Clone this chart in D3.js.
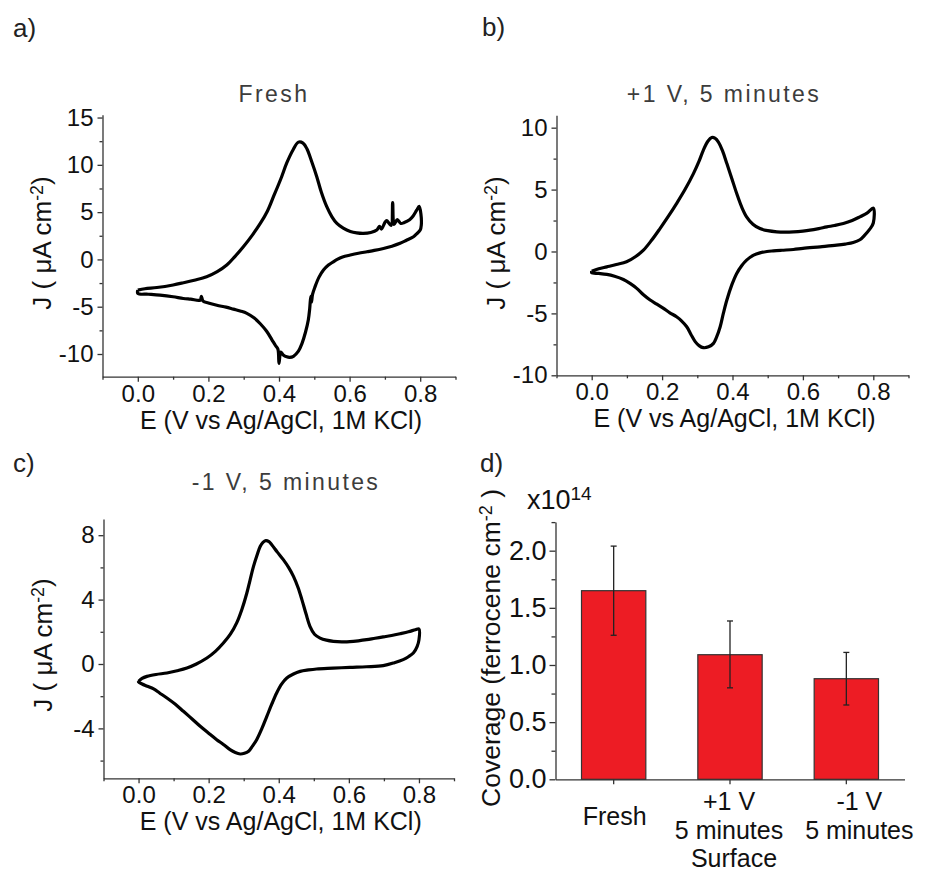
<!DOCTYPE html>
<html>
<head>
<meta charset="utf-8">
<script src="https://cdnjs.cloudflare.com/ajax/libs/d3/7.8.5/d3.min.js"></script>
<style>
  body { margin: 0; background: #fff; }
  text { font-family: "Liberation Sans", Arial, sans-serif; }
</style>
</head>
<body>
<script>
// ---- data ----
var xTicksCV = [0, 0.2, 0.4, 0.6, 0.8];
var xMinorCV = [-0.1, 0.1, 0.3, 0.5, 0.7, 0.9];

// a) Fresh  [E (V), J (uA cm-2)]
var freshUp = [[0.000,-3.25],[0.02,-3.1],[0.054,-2.97],[0.10,-2.7],[0.129,-2.47],[0.16,-2.2],[0.195,-1.84],
  [0.225,-1.3],[0.252,-0.6],[0.275,0.3],[0.299,1.34],[0.325,2.6],[0.347,3.8],[0.367,5.1],[0.384,6.6],
  [0.405,8.5],[0.422,10.2],[0.44,11.6],[0.455,12.4],[0.468,12.3],[0.479,11.7],[0.493,10.3],[0.507,8.75],
  [0.52,7.1],[0.535,5.6],[0.55,4.5],[0.564,3.8],[0.582,3.3],[0.602,2.95],[0.62,2.8],[0.639,2.75],
  [0.66,2.85],[0.677,3.1],[0.685,3.5],[0.69,3.2],[0.70,3.9],[0.705,4.1],[0.712,3.8],[0.718,3.6],
  [0.722,6.0],[0.726,3.7],[0.735,4.2],[0.745,3.8],[0.755,3.9],[0.77,4.2],[0.78,4.6],[0.79,5.2],
  [0.797,5.6],[0.802,4.8],[0.803,3.6],[0.80,3.1]];
var freshDown = [[0.79,2.7],[0.781,2.4],[0.76,2.0],[0.743,1.7],[0.72,1.4],[0.696,1.16],[0.67,0.95],
  [0.649,0.81],[0.625,0.65],[0.602,0.46],[0.58,0.25],[0.565,0.0],[0.554,-0.25],[0.54,-0.6],[0.526,-1.13],
  [0.513,-1.9],[0.502,-2.9],[0.495,-3.7],[0.492,-4.5],[0.49,-3.9],[0.487,-5.2],[0.483,-6.4],[0.475,-7.7],
  [0.465,-8.9],[0.455,-9.7],[0.441,-10.24],[0.43,-10.35],[0.422,-10.3],[0.412,-10.1],[0.405,-9.8],
  [0.400,-11.0],[0.397,-9.5],[0.39,-9.1],[0.38,-8.5],[0.365,-7.6],[0.347,-6.8],[0.33,-6.2],[0.309,-5.7],
  [0.29,-5.45],[0.271,-5.26],[0.25,-5.05],[0.224,-4.84],[0.2,-4.6],[0.185,-4.4],[0.18,-3.9],[0.177,-4.3],
  [0.15,-4.2],[0.129,-4.13],[0.1,-3.95],[0.063,-3.78],[0.03,-3.68],[0.0,-3.6]];
var freshTicks = [-10, -5, 0, 5, 10, 15];
var freshMinor = [-7.5, -2.5, 2.5, 7.5, 12.5];

// b) +1 V, 5 minutes
var plusUp = [[0,-1.6],[0.02,-1.4],[0.043,-1.24],[0.07,-1.05],[0.099,-0.83],[0.125,-0.4],[0.147,0.11],
  [0.17,0.9],[0.194,1.85],[0.218,2.85],[0.241,3.87],[0.265,5.0],[0.289,6.29],[0.305,7.3],[0.317,8.17],
  [0.33,8.9],[0.341,9.2],[0.35,9.15],[0.36,8.84],[0.372,8.1],[0.384,7.1],[0.398,5.9],[0.412,4.68],
  [0.426,3.6],[0.44,2.8],[0.458,2.2],[0.478,1.85],[0.5,1.68],[0.526,1.59],[0.55,1.57],[0.573,1.59],
  [0.6,1.65],[0.62,1.72],[0.645,1.85],[0.668,1.99],[0.69,2.1],[0.715,2.26],[0.74,2.5],[0.762,2.8],
  [0.782,3.1],[0.8,3.5],[0.8,2.3]];
var plusDown = [[0.79,1.8],[0.775,1.3],[0.762,0.95],[0.743,0.72],[0.72,0.6],[0.696,0.51],[0.649,0.38],
  [0.6,0.25],[0.573,0.16],[0.54,0.1],[0.516,0.05],[0.498,0.0],[0.478,-0.11],[0.46,-0.3],[0.44,-0.7],
  [0.426,-1.15],[0.412,-1.77],[0.398,-2.7],[0.384,-3.92],[0.374,-5.0],[0.365,-6.08],[0.355,-6.9],
  [0.346,-7.42],[0.332,-7.7],[0.317,-7.77],[0.305,-7.6],[0.294,-7.28],[0.282,-6.7],[0.27,-6.08],
  [0.255,-5.6],[0.241,-5.27],[0.222,-4.95],[0.204,-4.6],[0.185,-4.25],[0.166,-3.92],[0.147,-3.5],
  [0.128,-2.98],[0.11,-2.6],[0.09,-2.26],[0.065,-2.0],[0.043,-1.85],[0.02,-1.77],[0,-1.72]];
var plusTicks = [-10, -5, 0, 5, 10];
var plusMinor = [-7.5, -2.5, 2.5, 7.5];

// c) -1 V, 5 minutes
var minusUp = [[0,-1.08],[0.01,-0.9],[0.024,-0.77],[0.05,-0.65],[0.081,-0.56],[0.11,-0.42],[0.138,-0.25],
  [0.165,0.0],[0.195,0.37],[0.22,0.8],[0.242,1.3],[0.262,1.85],[0.28,2.55],[0.295,3.4],[0.309,4.41],
  [0.318,5.2],[0.328,6.06],[0.338,6.75],[0.347,7.3],[0.355,7.55],[0.363,7.66],[0.372,7.6],[0.38,7.41],
  [0.396,6.95],[0.413,6.48],[0.428,6.0],[0.442,5.44],[0.455,4.75],[0.466,4.0],[0.478,3.1],[0.489,2.34],
  [0.502,1.85],[0.518,1.61],[0.536,1.48],[0.556,1.41],[0.58,1.38],[0.603,1.39],[0.627,1.44],[0.651,1.51],
  [0.675,1.6],[0.698,1.68],[0.722,1.77],[0.746,1.88],[0.77,2.0],[0.79,2.13],[0.8,2.18],[0.8,1.5]];
var minusDown = [[0.795,1.1],[0.784,0.68],[0.77,0.45],[0.755,0.27],[0.73,0.08],[0.698,-0.1],[0.65,-0.17],
  [0.603,-0.21],[0.555,-0.26],[0.508,-0.31],[0.485,-0.37],[0.461,-0.46],[0.442,-0.62],[0.423,-0.87],
  [0.408,-1.25],[0.394,-1.8],[0.38,-2.5],[0.366,-3.25],[0.352,-4.0],[0.337,-4.7],[0.325,-5.1],
  [0.314,-5.42],[0.302,-5.55],[0.29,-5.59],[0.276,-5.5],[0.261,-5.32],[0.242,-5.0],[0.223,-4.7],
  [0.2,-4.3],[0.176,-3.87],[0.152,-3.4],[0.128,-2.94],[0.105,-2.5],[0.081,-2.11],[0.06,-1.8],
  [0.043,-1.55],[0.025,-1.38],[0.01,-1.24],[0,-1.12]];
var minusTicks = [-4, 0, 4, 8];
var minusMinor = [-6, -2, 2, 6];

// d) coverage (x10^14 ferrocene cm-2)
var surfaces = ["Fresh", "+1 V", "-1 V"];
var surfaceLines = [["Fresh"], ["+1 V", "5 minutes"], ["-1 V", "5 minutes"]];
var coverage = [1.65, 1.09, 0.88];
var errHigh = [2.04, 1.385, 1.11];
var errLow = [1.26, 0.80, 0.65];
var covTicks = [0, 0.5, 1.0, 1.5, 2.0];
var covMinor = [0.25, 0.75, 1.25, 1.75, 2.25];

// ---- drawing ----
var svg = d3.select("body").append("svg")
  .attr("width", 925).attr("height", 874);

// plain hyphen for negatives, like the original
function hyphen(fmt) {
  return function(d) { return fmt(d).replace("\u2212", "-"); };
}

function styleAxis(g, fs) {
  g.select(".domain").attr("stroke", "#333").attr("stroke-width", 1.3);
  g.selectAll(".tick line").attr("stroke", "#333").attr("stroke-width", 1.3);
  g.selectAll(".tick text").style("font-size", fs + "px").attr("fill", "#111");
}

function yLabel(x, y, fs, before, after) {
  var t = svg.append("text")
    .attr("transform", "translate(" + x + "," + y + ") rotate(-90)")
    .attr("text-anchor", "middle")
    .style("font-size", fs + "px").attr("fill", "#111");
  t.append("tspan").text(before);
  t.append("tspan").attr("dy", "-0.45em").style("font-size", (fs * 0.68) + "px").text("-2");
  t.append("tspan").attr("dy", "0.3em").text(after);
}

function cvPanel(p) {
  var x = d3.scaleLinear().domain([-0.1, 0.9]).range(p.xr);
  var y = d3.scaleLinear().domain(p.yd).range(p.yr);

  var line = d3.line()
    .x(function(d) { return x(d[0]); })
    .y(function(d) { return y(d[1]); })
    .curve(d3.curveCatmullRom.alpha(0.5));

  var pts = p.up.concat(p.down, [p.up[0]]);
  svg.append("path").datum(pts)
    .attr("d", line)
    .attr("fill", "none").attr("stroke", "#000")
    .attr("stroke-width", 3.2).attr("stroke-linejoin", "round");

  // x axis
  var gxm = svg.append("g").attr("transform", "translate(0," + p.yr[0] + ")")
    .call(d3.axisBottom(x).tickValues(xMinorCV).tickSize(3).tickFormat(""));
  gxm.select(".domain").remove();
  styleAxis(gxm, 24);
  var gx = svg.append("g").attr("transform", "translate(0," + p.yr[0] + ")")
    .call(d3.axisBottom(x).tickValues(xTicksCV).tickSize(5).tickSizeOuter(0)
      .tickPadding(3).tickFormat(d3.format(".1f")));
  styleAxis(gx, 24);

  // y axis
  var gym = svg.append("g").attr("transform", "translate(" + p.xr[0] + ",0)")
    .call(d3.axisLeft(y).tickValues(p.minor).tickSize(3).tickFormat(""));
  gym.select(".domain").remove();
  styleAxis(gym, 24);
  var gy = svg.append("g").attr("transform", "translate(" + p.xr[0] + ",0)")
    .call(d3.axisLeft(y).tickValues(p.ticks).tickSize(5).tickSizeOuter(0)
      .tickPadding(4).tickFormat(hyphen(d3.format("d"))));
  styleAxis(gy, 24);

  // labels
  svg.append("text")
    .attr("x", (p.xr[0] + p.xr[1]) / 2 + 2).attr("y", p.yr[0] + 52)
    .attr("text-anchor", "middle").style("font-size", "25px").attr("fill", "#111")
    .text("E (V vs Ag/AgCl, 1M KCl)");
  svg.append("text")
    .attr("x", p.titleX).attr("y", p.titleY)
    .attr("text-anchor", "middle").style("font-size", "23px")
    .style("letter-spacing", "2.4px").attr("fill", "#3c3c3c")
    .text(p.title);
  yLabel(p.xr[0] - 52, p.labelY, 26, "J ( \u03bcA cm", ")");
}

cvPanel({ up: freshUp, down: freshDown, ticks: freshTicks, minor: freshMinor,
  xr: [102.5, 455.5], yd: [-12.4, 15.3], yr: [376.7, 114.7],
  title: "Fresh", titleX: 274, titleY: 101.5, labelY: 243 });
cvPanel({ up: plusUp, down: plusDown, ticks: plusTicks, minor: plusMinor,
  xr: [556.5, 908.5], yd: [-10, 11], yr: [375.3, 115.3],
  title: "+1 V, 5 minutes", titleX: 724, titleY: 101.5, labelY: 243 });
cvPanel({ up: minusUp, down: minusDown, ticks: minusTicks, minor: minusMinor,
  xr: [103.5, 454], yd: [-7.1, 9], yr: [778.3, 519.1],
  title: "-1 V, 5 minutes", titleX: 286, titleY: 490, labelY: 645 });

// ---- d) bar chart ----
var xb = d3.scaleBand().domain(surfaces).range([555.5, 904.5]);
var yb = d3.scaleLinear().domain([0, 2.25]).range([779.3, 522.1]);
var barW = xb.bandwidth() * 0.553;

svg.append("g").selectAll("rect")
  .data(surfaces)
  .join("rect")
  .attr("x", function(d) { return xb(d) + (xb.bandwidth() - barW) / 2; })
  .attr("width", barW)
  .attr("y", function(d, i) { return yb(coverage[i]); })
  .attr("height", function(d, i) { return yb(0) - yb(coverage[i]); })
  .attr("fill", "#ed1c24").attr("stroke", "#333").attr("stroke-width", 1.2);

var eb = svg.append("g").attr("stroke", "#222").attr("stroke-width", 1.3);
surfaces.forEach(function(s, i) {
  var cx = xb(s) + xb.bandwidth() / 2;
  eb.append("line").attr("x1", cx).attr("x2", cx).attr("y1", yb(errLow[i])).attr("y2", yb(errHigh[i]));
  eb.append("line").attr("x1", cx - 3).attr("x2", cx + 3).attr("y1", yb(errLow[i])).attr("y2", yb(errLow[i]));
  eb.append("line").attr("x1", cx - 3).attr("x2", cx + 3).attr("y1", yb(errHigh[i])).attr("y2", yb(errHigh[i]));
});

var gbx = svg.append("g").attr("transform", "translate(0," + yb.range()[0] + ")")
  .call(d3.axisBottom(xb).tickSize(5).tickSizeOuter(0).tickFormat(""));
styleAxis(gbx, 27);

var gbym = svg.append("g").attr("transform", "translate(" + xb.range()[0] + ",0)")
  .call(d3.axisLeft(yb).tickValues(covMinor).tickSize(4).tickFormat(""));
gbym.select(".domain").remove();
styleAxis(gbym, 27);
var gby = svg.append("g").attr("transform", "translate(" + xb.range()[0] + ",0)")
  .call(d3.axisLeft(yb).tickValues(covTicks).tickSize(6).tickSizeOuter(0)
    .tickPadding(3).tickFormat(d3.format(".1f")));
styleAxis(gby, 27);

// multi-line category labels (the last one sits a bit right of its tick in the original)
var labelShift = [1, -1, 13];
surfaces.forEach(function(s, i) {
  var cx = xb(s) + xb.bandwidth() / 2 + labelShift[i];
  var lines = surfaceLines[i];
  var y0 = lines.length === 1 ? 825 : 810;
  lines.forEach(function(l, j) {
    svg.append("text").attr("x", cx).attr("y", y0 + j * 28.5)
      .attr("text-anchor", "middle").style("font-size", "25px").attr("fill", "#111")
      .text(l);
  });
});
svg.append("text").attr("x", 734).attr("y", 867)
  .attr("text-anchor", "middle").style("font-size", "25px").attr("fill", "#111")
  .text("Surface");

var mult = svg.append("text").attr("x", 527).attr("y", 509)
  .style("font-size", "27px").attr("fill", "#111");
mult.append("tspan").text("x10");
mult.append("tspan").attr("dy", "-0.45em").style("font-size", "19px").text("14");

yLabel(500, 648, 26.5, "Coverage (ferrocene cm", " )");

// panel letters
[["a)", 13, 37], ["b)", 482, 36], ["c)", 13, 472], ["d)", 480, 472]].forEach(function(l) {
  svg.append("text").attr("x", l[1]).attr("y", l[2])
    .style("font-size", "26px").attr("fill", "#222").text(l[0]);
});
</script>
</body>
</html>
